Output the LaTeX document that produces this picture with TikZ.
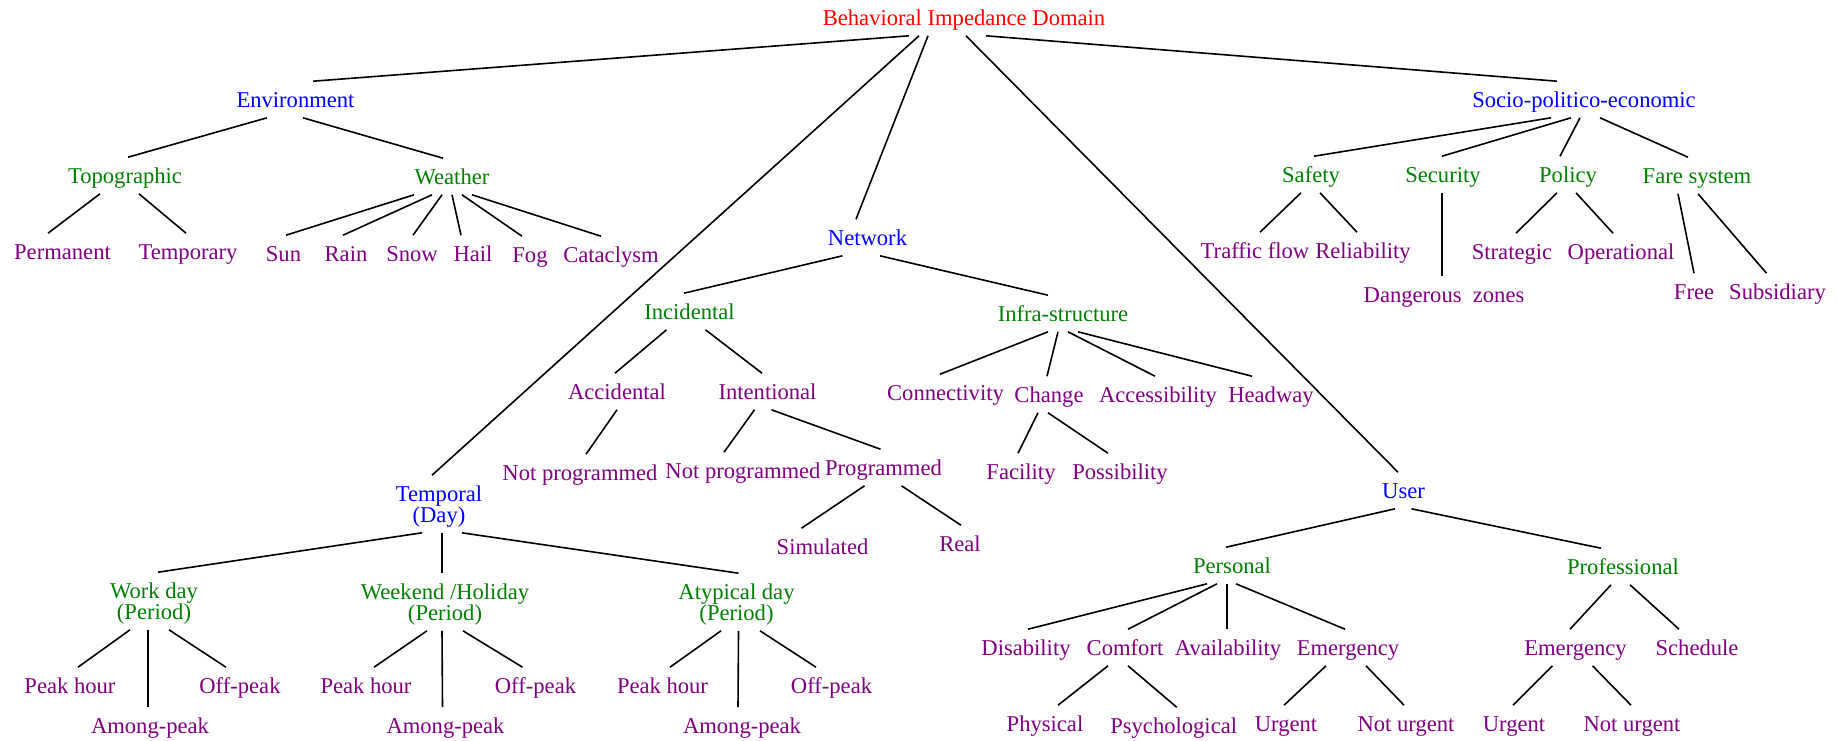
\documentclass[tikz,border=0pt]{standalone}
\usepackage{fontspec}
\setmainfont{Liberation Serif}
\definecolor{domred}{RGB}{255,0,0}
\definecolor{domblue}{RGB}{0,0,255}
\definecolor{catgreen}{RGB}{0,128,0}
\definecolor{itempurple}{RGB}{128,0,128}

\begin{document}
\begin{tikzpicture}
      [x=1pt,y=-1pt,line width=1.6pt,
      every node/.style={anchor=base,inner xsep=2pt,inner ysep=5pt,text height=20pt,text depth=5pt},
      rootlbl/.style={text=domred},dom/.style={text=domblue},
      cat/.style={text=catgreen},item/.style={text=itempurple},
      twoline/.style={align=center,text height=41pt},
      font=\fontsize{22.6}{21}\selectfont]
\useasboundingbox (0,0) rectangle (1838,740);
\node[rootlbl] (root) at (964,25) {Behavioral Impedance Domain};
% first level
\node[dom] (env) at (295.5,107) {Environment};
\node[dom,twoline] (temporal) at (439,522) {Temporal\\(Day)};
\node[dom] (net) at (867.5,245) {Network};
\node[dom] (user) at (1403.5,498) {User};
\node[dom] (socio) at (1584,107) {Socio-politico-economic};
% environment
\node[cat] (topo) at (125,183) {Topographic};
\node[cat] (weather) at (452,184) {Weather};
\node[item] (perm) at (62.5,259) {Permanent};
\node[item] (tempo) at (188,259) {Temporary};
\node[item] (sun) at (283.5,261) {Sun};
\node[item] (rain) at (346,261) {Rain};
\node[item] (snow) at (412,261) {Snow};
\node[item] (hail) at (473,261) {Hail};
\node[item] (fog) at (530,262) {Fog};
\node[item] (catac) at (611,262) {Cataclysm};
% network
\node[cat] (incid) at (689.5,319) {Incidental};
\node[cat] (infra) at (1063,321) {Infra-structure};
\node[item] (accid) at (617,399) {Accidental};
\node[item] (inten) at (767.5,399) {Intentional};
\node[item] (notprogA) at (580,480) {Not programmed};
\node[item] (notprogB) at (743,478) {Not programmed};
\node[item] (progr) at (883.5,475) {Programmed};
\node[item] (simul) at (822.5,554) {Simulated};
\node[item] (real) at (960,551) {Real};
\node[item] (conn) at (945.5,400) {Connectivity};
\node[item] (change) at (1049,402) {Change};
\node[item] (access) at (1158,402) {Accessibility};
\node[item] (headway) at (1271,402) {Headway};
\node[item] (facil) at (1021,479) {Facility};
\node[item] (possib) at (1120,479) {Possibility};
% temporal
\node[cat,twoline] (work) at (154,619) {Work day\\(Period)};
\node[cat,twoline] (weekend) at (445,620) {Weekend /Holiday\\(Period)};
\node[cat,twoline] (atyp) at (736.5,620) {Atypical day\\(Period)};
\node[item] (peakA) at (70,693) {Peak hour};
\node[item] (amongA) at (150,733) {Among-peak};
\node[item] (offA) at (240,693) {Off-peak};
\node[item] (peakB) at (366,693) {Peak hour};
\node[item] (amongB) at (445.5,733) {Among-peak};
\node[item] (offB) at (535.5,693) {Off-peak};
\node[item] (peakC) at (662.5,693) {Peak hour};
\node[item] (amongC) at (742,733) {Among-peak};
\node[item] (offC) at (831.5,693) {Off-peak};
% user
\node[cat] (pers) at (1232,573) {Personal};
\node[cat] (prof) at (1623,574) {Professional};
\node[item] (disab) at (1026,655) {Disability};
\node[item] (comfort) at (1125,655) {Comfort};
\node[item] (avail) at (1228,655) {Availability};
\node[item] (emergA) at (1348,655) {Emergency};
\node[item] (phys) at (1045,731) {Physical};
\node[item] (psych) at (1173.7,733) {Psychological};
\node[item] (urgA) at (1286,731) {Urgent};
\node[item] (noturgA) at (1406,731) {Not urgent};
\node[item] (emergB) at (1575.5,655) {Emergency};
\node[item] (sched) at (1697,655) {Schedule};
\node[item] (urgB) at (1514,731) {Urgent};
\node[item] (noturgB) at (1632,731) {Not urgent};
% socio-politico-economic
\node[cat] (safety) at (1311,182) {Safety};
\node[cat] (secur) at (1443,182) {Security};
\node[cat] (policy) at (1568,182) {Policy};
\node[cat] (fare) at (1697,183) {Fare system};
\node[item] (traffic) at (1255,258) {Traffic flow};
\node[item] (reliab) at (1363,258) {Reliability};
\node[item] (danger) at (1444,302) {Dangerous\ \ zones};
\node[item] (strat) at (1512,259) {Strategic};
\node[item] (oper) at (1621,259) {Operational};
\node[item] (free) at (1694,299) {Free};
\node[item] (subsid) at (1777.5,299) {Subsidiary};
% connectors: parent/shift/child/shift
\foreach \p/\a/\c/\b in {root/-55/env/17.5,root/-45/temporal/-7,root/-36/net/-11.5,root/2/user/-5.5,root/22/socio/-27,
    env/-28.5/topo/3,env/7.5/weather/-9,topo/-25/perm/-14.5,topo/14/tempo/-2,
    weather/-38/sun/2.5,weather/-20/rain/-3,weather/-10/snow/1,weather/0/hail/-12,weather/10/fog/-8,weather/20/catac/-10,
    net/-25/incid/-5.5,net/12.5/infra/-15,incid/-23/accid/-2,incid/16/inten/-5.5,
    accid/0/notprogA/6,inten/-13/notprogB/-19,inten/4/progr/-3,progr/-19/simul/-21,progr/18/real/1,
    infra/-15/conn/-5.5,infra/-5/change/-2,infra/5/access/-3,infra/15/headway/-19,change/-11/facil/-3,change/-1/possib/-12,
    temporal/-17/work/4,temporal/3/weekend/-3,temporal/23/atyp/2,
    work/-24/peakA/8,work/-6/amongA/-2,work/15/offA/-14,
    weekend/-18/peakB/8,weekend/-3/amongB/-3,weekend/18/offB/-13,
    atyp/-15.5/peakC/7.5,atyp/2/amongC/-4,atyp/23.5/offC/-15.5,
    user/-8.5/pers/-6,user/8/prof/-22,
    pers/-25/disab/2,pers/-15/comfort/3,pers/-5/avail/-1,pers/4/emergA/-3,
    comfort/-17/phys/13,comfort/3/psych/3,emergA/-22/urgA/-2,emergA/18/noturgA/-2,
    prof/-12/emergB/-5.5,prof/7/sched/-18,emergB/-23/urgB/-1,emergB/17/noturgB/-1,
    socio/-33/safety/3,socio/-13/secur/-1,socio/-4/policy/-8,socio/16/fare/-9,
    safety/-10/traffic/5,safety/9/reliab/-6,secur/-1/danger/-2,
    policy/-11/strat/4,policy/8/oper/-8,fare/-19/free/0,fare/1/subsid/-11}
  \draw ([xshift=\a pt]\p.south) -- ([xshift=\b pt]\c.north);
\end{tikzpicture}
\end{document}
